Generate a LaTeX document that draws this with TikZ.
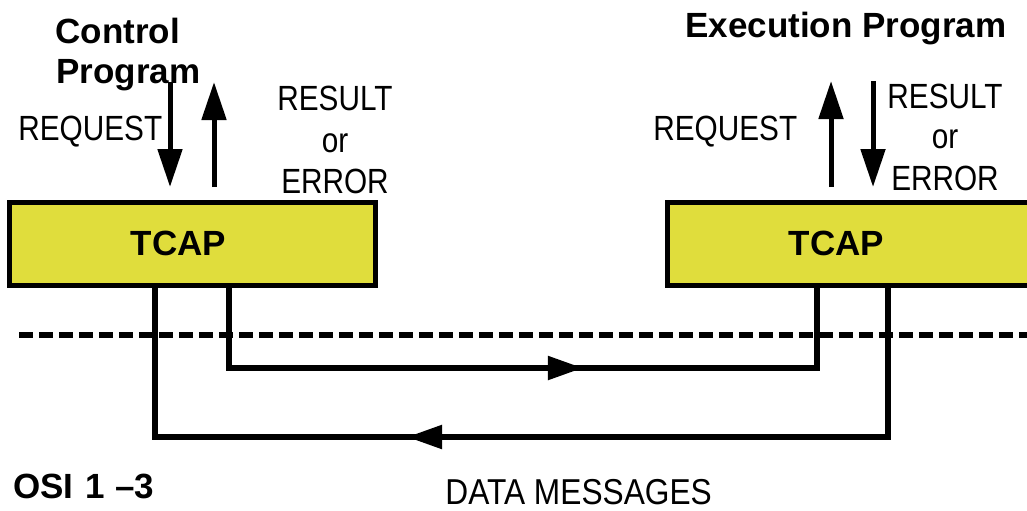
\documentclass[tikz,border=0pt]{standalone}
\usepackage{fontspec}
\setmainfont{Liberation Sans}
\newfontfamily\condensed[FakeStretch=0.85]{Liberation Sans}
\newfontfamily\footfont[FakeStretch=0.88]{Liberation Sans}
\usetikzlibrary{arrows.meta,decorations.markings}
\definecolor{tcapyellow}{RGB}{224,221,60}

\tikzset{
  box/.style={draw, line width=2.5pt, fill=tcapyellow, minimum width=183pt,
              minimum height=41.5pt, inner sep=0pt},
  title/.style={font=\bfseries\fontsize{17.5pt}{20pt}\selectfont, inner sep=0pt},
  lbl/.style={font=\condensed\fontsize{17.5pt}{20pt}\selectfont, inner sep=0pt},
  sig/.style={line width=2.5pt, -{Triangle[length=19pt,width=12pt]}},
  wire/.style={line width=2.7pt},
  midtip/.style={postaction={decorate}, decoration={markings,
      mark=at position #1 with {\arrow{Triangle[length=17.5pt,width=11.5pt]}}}},
  layer/.style={line width=2.8pt, dash pattern=on 7pt off 3pt}
}

\begin{document}
\begin{tikzpicture}[x=0.5pt,y=-0.5pt]
\useasboundingbox (0,0) rectangle (1027,510);
\begin{scope}
\clip (0,0) rectangle (1027,510);

% layer boundary
\coordinate (layerA) at (19,335);
\coordinate (layerB) at (1040,335);
\draw[layer] (layerA) -- (layerB);

% TCAP boxes
\node[box] (lbox) at (192.5,244) {};
\node[box] (rbox) at (850.5,244) {};
\node[title, anchor=base, xshift=-7pt] (ltcap) at (lbox.center |- 0,255) {TCAP};
\node[title, anchor=base, xshift=-7pt] (rtcap) at (rbox.center |- 0,255) {TCAP};

% data message loops
\coordinate (li) at (229,0);
\coordinate (lo) at (155,0);
\coordinate (ri) at (817,0);
\coordinate (ro) at (888,0);
\coordinate (inBot) at (0,368);
\coordinate (outBot) at (0,437);
\draw[wire, midtip=0.58] (lbox.south -| li) -- (inBot -| li) -- (inBot -| ri) -- (rbox.south -| ri);
\draw[wire, midtip=0.611] (rbox.south -| ro) -- (outBot -| ro) -- (outBot -| lo) -- (lbox.south -| lo);

% control program side
\node[title, anchor=base west] (ctl1) at (55,43) {Control};
\node[title, anchor=base west] (ctl2) at (56,83) {Program};
\coordinate (lreqTop) at (170,82);
\coordinate (lreqEnd) at (170,187);
\coordinate (lresBot) at (214,187);
\coordinate (lresTop) at (214,82);
\draw[sig] (lreqTop) -- (lreqEnd);
\draw[sig] (lresBot) -- (lresTop);
\node[lbl, anchor=base west] (lreq) at (18,140) {REQUEST};
\node[lbl, anchor=base] (lres1) at (335,110) {RESULT};
\node[lbl, anchor=base] (lres2) at (335,152) {or};
\node[lbl, anchor=base] (lres3) at (335,193) {ERROR};

% execution program side
\node[title, anchor=base west] (exe) at (685,37) {Execution Program};
\coordinate (rreqBot) at (831,187);
\coordinate (rreqTop) at (831,81);
\coordinate (rresTop) at (873,81);
\coordinate (rresEnd) at (873,187);
\draw[sig] (rreqBot) -- (rreqTop);
\draw[sig] (rresTop) -- (rresEnd);
\node[lbl, anchor=base west] (rreq) at (653,140) {REQUEST};
\node[lbl, anchor=base] (rres1) at (945,108) {RESULT};
\node[lbl, anchor=base] (rres2) at (945,148) {or};
\node[lbl, anchor=base] (rres3) at (945,190) {ERROR};

% bottom captions
\node[title, anchor=base west] (osi) at (13,498) {OSI\kern6pt1\kern5pt–3};
\node[inner sep=0pt, font=\footfont\fontsize{18pt}{20pt}\selectfont, anchor=base west] (data) at (445,504) {DATA MESSAGES};
\end{scope}
\end{tikzpicture}
\end{document}
